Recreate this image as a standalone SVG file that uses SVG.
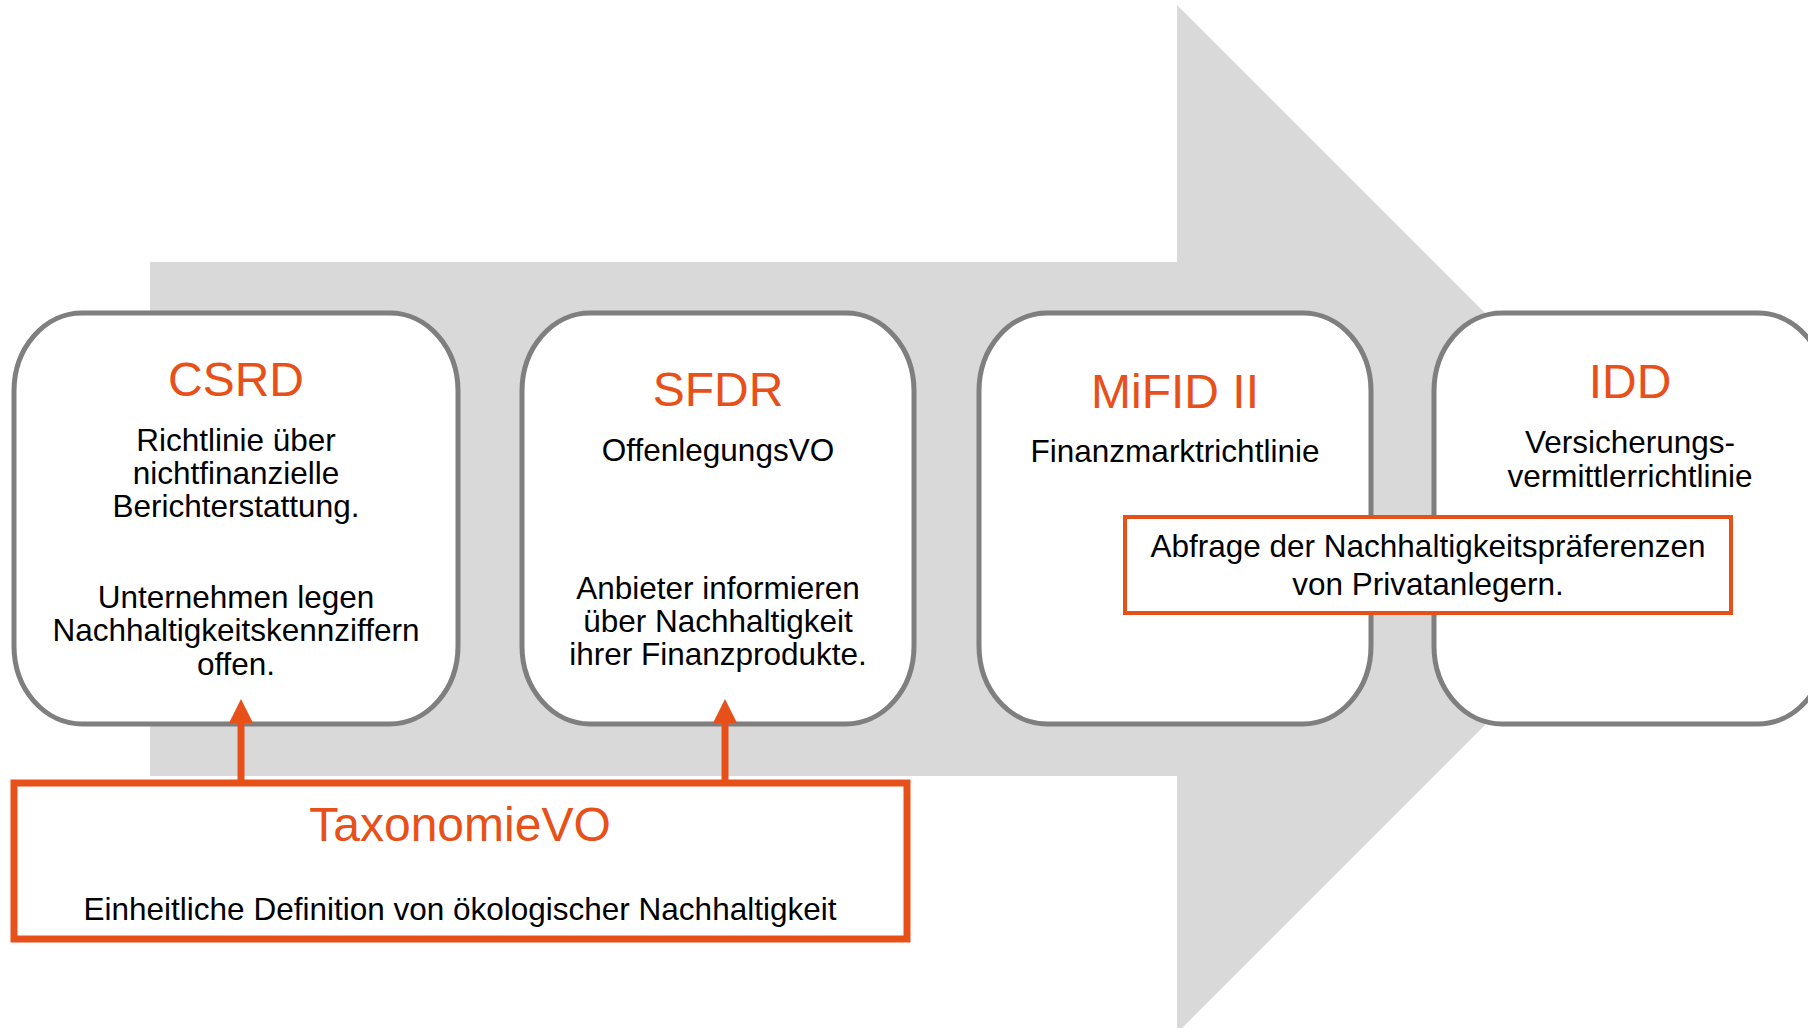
<svg xmlns="http://www.w3.org/2000/svg" width="1808" height="1028" viewBox="0 0 1808 1028">
<style>
.card{fill:#ffffff;stroke:#7f7f7f;stroke-width:5}
.obox{fill:#ffffff;stroke:#e8501a}
.title{font-family:"Liberation Sans",Arial,sans-serif;font-size:48px;fill:#e8501a;text-anchor:middle}
.body{font-family:"Liberation Sans",Arial,sans-serif;font-size:31.5px;fill:#000000;text-anchor:middle}
</style>
<defs>
<marker id="ah" viewBox="0 0 24 24" refX="0" refY="12" markerWidth="24" markerHeight="24" markerUnits="userSpaceOnUse" orient="auto">
<path d="M0,0 L24,12 L0,24 Z" fill="#e8501a"/>
</marker>
</defs>
<rect width="1808" height="1028" fill="#ffffff"/>
<polygon id="bgArrow" points="150,262 1177,262 1177,5 1691,519 1177,1033 1177,776 150,776" fill="#d9d9d9"/>

<g id="csrd">
<rect class="card" x="14" y="313" width="444" height="411" rx="68" ry="78"/>
<text class="title" x="236" y="396">CSRD</text>
<text class="body"><tspan x="236" y="451">Richtlinie über</tspan><tspan x="236" y="484">nichtfinanzielle</tspan><tspan x="236" y="517">Berichterstattung.</tspan><tspan x="236" y="608">Unternehmen legen</tspan><tspan x="236" y="641">Nachhaltigkeitskennziffern</tspan><tspan x="236" y="675">offen.</tspan></text>
</g>

<g id="sfdr">
<rect class="card" x="522" y="313" width="392" height="411" rx="68" ry="78"/>
<text class="title" x="718" y="406">SFDR</text>
<text class="body"><tspan x="718" y="461">OffenlegungsVO</tspan><tspan x="718" y="599">Anbieter informieren</tspan><tspan x="718" y="632">über Nachhaltigkeit</tspan><tspan x="718" y="665">ihrer Finanzprodukte.</tspan></text>
</g>

<g id="mifid">
<rect class="card" x="979" y="313" width="392" height="411" rx="68" ry="78"/>
<text class="title" x="1175" y="408">MiFID II</text>
<text class="body" x="1175" y="462">Finanzmarktrichtlinie</text>
</g>

<g id="idd">
<rect class="card" x="1434" y="313" width="392" height="411" rx="68" ry="78"/>
<text class="title" x="1630" y="398">IDD</text>
<text class="body"><tspan x="1630" y="453">Versicherungs-</tspan><tspan x="1630" y="487">vermittlerrichtlinie</tspan></text>
</g>

<g id="abfrage">
<rect class="obox" x="1125" y="517" width="606" height="96" stroke-width="4"/>
<text class="body"><tspan x="1428" y="557">Abfrage der Nachhaltigkeitspräferenzen</tspan><tspan x="1428" y="595">von Privatanlegern.</tspan></text>
</g>

<g id="taxonomie">
<rect class="obox" x="14" y="783" width="893" height="156" stroke-width="7"/>
<text class="title" x="460" y="841" font-size="47">TaxonomieVO</text>
<text class="body" x="460" y="920">Einheitliche Definition von ökologischer Nachhaltigkeit</text>
</g>

<g id="connectors" stroke="#e8501a" stroke-width="7" fill="none">
<line x1="241" y1="780" x2="241" y2="723" marker-end="url(#ah)"/>
<line x1="725" y1="780" x2="725" y2="723" marker-end="url(#ah)"/>
</g>
</svg>
